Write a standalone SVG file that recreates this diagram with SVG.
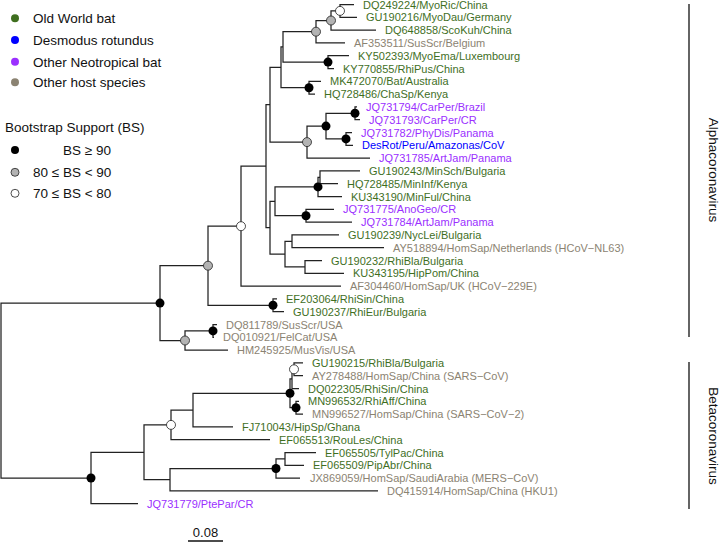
<svg xmlns="http://www.w3.org/2000/svg" width="720" height="544" viewBox="0 0 720 544">
<style>
text{font-family:"Liberation Sans",Arial,sans-serif}
.lf{font-size:11px}
.lg{font-size:13.5px;fill:#111}
.g{fill:#3f6f1f}.b{fill:#0000ff}.p{fill:#9b30ff}.o{fill:#8b8372}
.e{fill:none;stroke:#222;stroke-width:1.25}
.nb{fill:#000}
.ng{fill:#b3b3b3;stroke:#222;stroke-width:0.8}
.nw{fill:#fff;stroke:#222;stroke-width:0.8}
</style>
<rect width="720" height="544" fill="#fff"/>
<g id="legend">
<circle cx="15" cy="18.3" r="4" fill="#3f6f1f"/><text class="lg" x="33" y="23">Old World bat</text>
<circle cx="15" cy="40" r="4" fill="#0000ff"/><text class="lg" x="33" y="45">Desmodus rotundus</text>
<circle cx="15" cy="61.7" r="4" fill="#9b30ff"/><text class="lg" x="33" y="66.5">Other Neotropical bat</text>
<circle cx="15" cy="82.3" r="4" fill="#8b8372"/><text class="lg" x="33" y="87">Other host species</text>
<text class="lg" x="5" y="132">Bootstrap Support (BS)</text>
<circle cx="15" cy="150" r="4" class="nb"/><text class="lg" x="63" y="155">BS ≥ 90</text>
<circle cx="15" cy="172.3" r="4" class="ng"/><text class="lg" x="33" y="177">80 ≤ BS &lt; 90</text>
<circle cx="15" cy="193.3" r="4" class="nw"/><text class="lg" x="33" y="198">70 ≤ BS &lt; 80</text>
</g>
<g id="edges" class="e">
<path d="M354 4.5H340V17.3H357"/>
<path d="M340 10.9H331V30.1H376"/>
<path d="M331 20.5H316V42.9H345"/>
<path d="M349 55.7H328V68.5H334"/>
<path d="M316 31.7H283V62.1H328"/>
<path d="M321 81.3H309V94.1H315"/>
<path d="M283 46.9H281V87.7H309"/>
<path d="M357 106.9H355V119.7H360"/>
<path d="M352 132.5H346V145.3H353"/>
<path d="M355 113.3H326V138.9H346"/>
<path d="M326 126.1H307V158.1H370"/>
<path d="M281 67.3H270V142.1H307"/>
<path d="M360 170.9H320V183.7H338"/>
<path d="M320 177.3H318V196.5H342"/>
<path d="M334 209.3H306V222.1H352"/>
<path d="M318 186.9H275V215.7H306"/>
<path d="M339 234.9H292V247.7H384"/>
<path d="M322 260.5H305V273.3H344"/>
<path d="M292 241.3H285V266.9H305"/>
<path d="M275 201.3H270V254.1H285"/>
<path d="M270 104.7H266V227.7H270"/>
<path d="M266 166.2H241V286.1H341"/>
<path d="M277 298.9H273V311.7H284"/>
<path d="M241 226.2H208V305.3H273"/>
<path d="M217 324.5H213V337.3H214"/>
<path d="M213 330.9H185V350.1H228"/>
<path d="M208 265.7H160V340.5H185"/>
<path d="M303 362.9H294V375.7H303"/>
<path d="M294 369.3H292V388.5H299"/>
<path d="M299 401.3H296V414.1H303"/>
<path d="M292 378.9H290V407.7H296"/>
<path d="M290 393.3H193V426.9H233"/>
<path d="M193 410.1H171V439.7H270"/>
<path d="M316 452.5H285V465.3H304"/>
<path d="M285 458.9H276V478.1H300"/>
<path d="M276 468.5H170V490.9H378"/>
<path d="M171 424.9H144V479.7H170"/>
<path d="M144 452.3H91V503.7H138"/>
<path d="M160 303.1H1V478H91"/>
</g>
<g id="nodes">
<circle cx="340" cy="10.9" r="4.5" class="nw"/>
<circle cx="331" cy="20.5" r="4.5" class="ng"/>
<circle cx="316" cy="31.7" r="4.5" class="ng"/>
<circle cx="328" cy="62.1" r="4.5" class="nb"/>
<circle cx="309" cy="87.7" r="4.5" class="nb"/>
<circle cx="355" cy="113.3" r="4.5" class="nb"/>
<circle cx="346" cy="138.9" r="4.5" class="nb"/>
<circle cx="326" cy="126.1" r="4.5" class="nb"/>
<circle cx="307" cy="142.1" r="4.5" class="ng"/>
<circle cx="318" cy="186.9" r="4.5" class="nb"/>
<circle cx="306" cy="215.7" r="4.5" class="nb"/>
<circle cx="241" cy="226.2" r="4.5" class="nw"/>
<circle cx="273" cy="305.3" r="4.5" class="nb"/>
<circle cx="208" cy="265.7" r="4.5" class="ng"/>
<circle cx="213" cy="330.9" r="4.5" class="nb"/>
<circle cx="185" cy="340.5" r="4.5" class="ng"/>
<circle cx="160" cy="303.1" r="4.5" class="nb"/>
<circle cx="294" cy="369.3" r="4.5" class="nw"/>
<circle cx="296" cy="407.7" r="4.5" class="nb"/>
<circle cx="290" cy="393.3" r="4.5" class="nb"/>
<circle cx="171" cy="424.9" r="4.5" class="nw"/>
<circle cx="276" cy="468.5" r="4.5" class="nb"/>
<circle cx="91" cy="478" r="4.5" class="nb"/>
</g>
<g id="labels" class="lf">
<text class="g" x="363" y="8.5">DQ249224/MyoRic/China</text>
<text class="g" x="366" y="21.3">GU190216/MyoDau/Germany</text>
<text class="g" x="385" y="34.1">DQ648858/ScoKuh/China</text>
<text class="o" x="354" y="46.9">AF353511/SusScr/Belgium</text>
<text class="g" x="358" y="59.7">KY502393/MyoEma/Luxembourg</text>
<text class="g" x="343" y="72.5">KY770855/RhiPus/China</text>
<text class="g" x="330" y="85.3">MK472070/Bat/Australia</text>
<text class="g" x="324" y="98.1">HQ728486/ChaSp/Kenya</text>
<text class="p" x="366" y="110.9">JQ731794/CarPer/Brazil</text>
<text class="p" x="369" y="123.7">JQ731793/CarPer/CR</text>
<text class="p" x="361" y="136.5">JQ731782/PhyDis/Panama</text>
<text class="b" x="362" y="149.3">DesRot/Peru/Amazonas/CoV</text>
<text class="p" x="379" y="162.1">JQ731785/ArtJam/Panama</text>
<text class="g" x="369" y="174.9">GU190243/MinSch/Bulgaria</text>
<text class="g" x="347" y="187.7">HQ728485/MinInf/Kenya</text>
<text class="g" x="351" y="200.5">KU343190/MinFul/China</text>
<text class="p" x="343" y="213.3">JQ731775/AnoGeo/CR</text>
<text class="p" x="361" y="226.1">JQ731784/ArtJam/Panama</text>
<text class="g" x="348" y="238.9">GU190239/NycLei/Bulgaria</text>
<text class="o" x="393" y="251.7">AY518894/HomSap/Netherlands (HCoV−NL63)</text>
<text class="g" x="331" y="264.5">GU190232/RhiBla/Bulgaria</text>
<text class="g" x="353" y="277.3">KU343195/HipPom/China</text>
<text class="o" x="350" y="290.1">AF304460/HomSap/UK (HCoV−229E)</text>
<text class="g" x="286" y="302.9">EF203064/RhiSin/China</text>
<text class="g" x="293" y="315.7">GU190237/RhiEur/Bulgaria</text>
<text class="o" x="226" y="328.5">DQ811789/SusScr/USA</text>
<text class="o" x="223" y="341.3">DQ010921/FelCat/USA</text>
<text class="o" x="237" y="354.1">HM245925/MusVis/USA</text>
<text class="g" x="312" y="366.9">GU190215/RhiBla/Bulgaria</text>
<text class="o" x="312" y="379.7">AY278488/HomSap/China (SARS−CoV)</text>
<text class="g" x="308" y="392.5">DQ022305/RhiSin/China</text>
<text class="g" x="308" y="405.3">MN996532/RhiAff/China</text>
<text class="o" x="312" y="418.1">MN996527/HomSap/China (SARS−CoV−2)</text>
<text class="g" x="242" y="430.9">FJ710043/HipSp/Ghana</text>
<text class="g" x="279" y="443.7">EF065513/RouLes/China</text>
<text class="g" x="325" y="456.5">EF065505/TylPac/China</text>
<text class="g" x="313" y="469.3">EF065509/PipAbr/China</text>
<text class="o" x="310" y="482.1">JX869059/HomSap/SaudiArabia (MERS−CoV)</text>
<text class="o" x="387" y="494.9">DQ415914/HomSap/China (HKU1)</text>
<text class="p" x="147" y="507.7">JQ731779/PtePar/CR</text>
</g>
<g id="clades">
<line x1="689" y1="4" x2="689" y2="337" stroke="#111" stroke-width="1.3"/>
<text x="713" y="170" font-size="13.5" fill="#111" text-anchor="middle" dominant-baseline="central" transform="rotate(90 713 170)">Alphacoronavirus</text>
<line x1="689" y1="362" x2="689" y2="509" stroke="#111" stroke-width="1.3"/>
<text x="713" y="436" font-size="13.5" fill="#111" text-anchor="middle" dominant-baseline="central" transform="rotate(90 713 436)">Betacoronavirus</text>
</g>
<g id="scalebar">
<line x1="188" y1="541" x2="223" y2="541" stroke="#111" stroke-width="1.3"/>
<text x="205.5" y="537" font-size="13" fill="#111" text-anchor="middle">0.08</text>
</g>
</svg>
